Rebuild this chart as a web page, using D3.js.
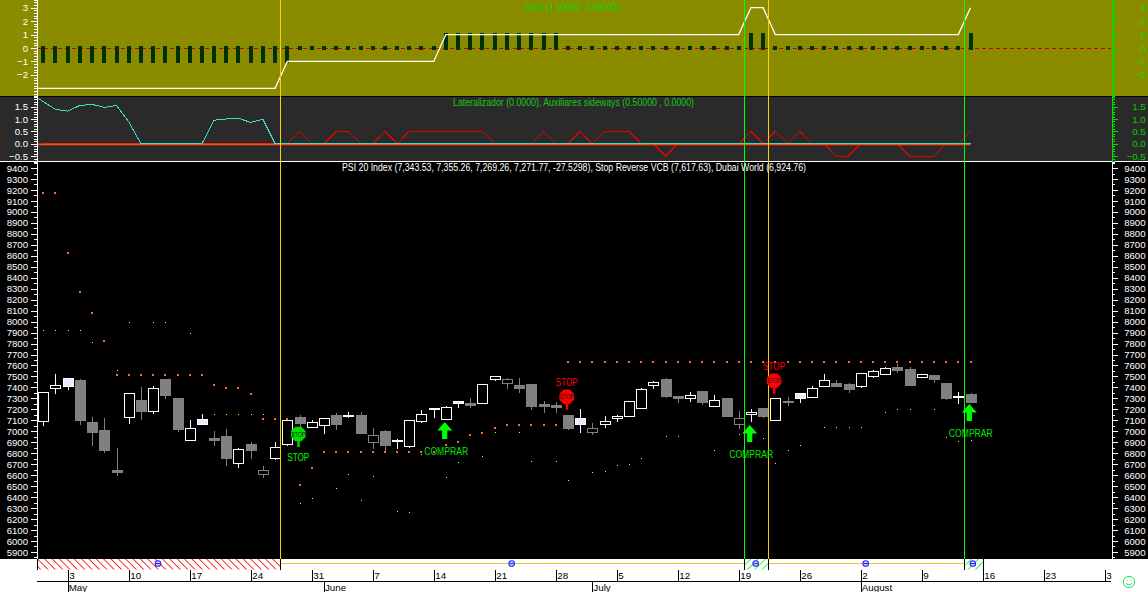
<!DOCTYPE html>
<html><head><meta charset="utf-8">
<script src="https://cdn.jsdelivr.net/npm/d3@7/dist/d3.min.js"></script>
<style>
html,body{margin:0;padding:0;background:#fff;overflow:hidden}
svg{display:block}
text{font-family:"Liberation Sans",Arial,sans-serif}
</style></head><body>
<svg id="c" width="1148" height="592"></svg>
<script>
const opens=[7094,7389,7486,7468,7085,7012,6647,7130,7285,7185,
7477,7304,6921,7112,6939,6957,6711,6884,6611,6757,
6884,7130,7039,7057,7149,7139,7149,6902,7003,6912,
6866,7094,7206,7112,7276,7258,7258,7477,7440,7422,
7431,7249,7240,7149,7121,6994,7069,7121,7139,7212,
7422,7477,7322,7303,7367,7230,7303,7066,7158,7212,
7103,7276,7349,7312,7413,7440,7431,7413,7504,7522,
7586,7568,7498,7513,7440,7312,7343.53];
const closes=[7355,7419,7413,7103,6994,6829,6632,7349,7185,7395,
7331,7021,7027,7067,6921,6757,6839,6829,6644,6854,
7103,7076,7085,7121,7067,7146,6984,6966,6875,6921,
7103,7158,7212,7221,7258,7240,7431,7504,7477,7395,
7231,7231,7221,7030,7067,7030,7094,7139,7276,7385,
7449,7322,7303,7331,7267,7285,7139,7121,7176,7139,
7303,7267,7303,7395,7467,7413,7385,7531,7550,7577,
7559,7422,7522,7477,7303,7322,7271.77];
const highs=[7367,7531,7486,7486,7139,7130,6857,7349,7413,7422,
7477,7313,7112,7158,7012,7030,6857,6912,6693,6912,
7103,7158,7112,7130,7176,7185,7185,7039,7021,6939,
7103,7203,7212,7240,7276,7313,7431,7513,7495,7495,
7431,7285,7276,7158,7212,7085,7148,7158,7276,7404,
7468,7495,7331,7367,7376,7340,7312,7194,7212,7212,
7303,7322,7349,7422,7531,7477,7449,7531,7568,7595,
7622,7595,7522,7522,7440,7367,7355.26];
const lows=[7057,7349,7386,7067,6875,6811,6602,7076,7112,7167,
7304,7003,6921,7067,6875,6693,6674,6757,6583,6747,
6875,7048,7039,6984,7021,7130,6984,6848,6829,6848,
6857,7085,7130,7112,7221,7221,7258,7468,7395,7358,
7203,7176,7176,7021,6994,6975,7039,7094,7139,7212,
7395,7313,7267,7276,7249,7230,7139,7030,7094,7130,
7103,7240,7267,7312,7413,7413,7358,7404,7495,7522,
7540,7422,7495,7449,7294,7258,7269.26];
// g = falling close (grey), w = rising close (white)
const candleTones=["w","w","w","g","g","g","g","w","g","w",
"g","g","w","w","g","g","w","g","g","w",
"w","g","w","w","g","w","g","g","g","w",
"w","w","w","w","w","g","w","w","g","g",
"g","g","g","g","w","g","w","w","w","w",
"w","g","g","w","g","w","g","g","w","g",
"w","g","w","w","w","g","g","w","w","w",
"g","g","w","g","g","w","g"];
const stopReverse=[9175,9175,8625,8270,8078,7823,7513,7513,7513,7513,
7513,7513,7513,7513,7422,7395,7395,7340,7112,7112,
7112,6511,6665,6811,6811,6811,6811,6811,6811,6811,
6811,6811,6811,6875,6902,6966,6985,7030,7057,7057,
7057,7057,7057,7632,7632,7632,7632,7632,7632,7632,
7632,7632,7632,7632,7632,7632,7632,7632,7632,7632,
7632,7632,7632,7632,7632,7632,7632,7632,7632,7632,
7632,7632,7632,7632,7632,7632,7632];
const dubaiWorld=[7921,7921,7921,7921,7811,null,7559,7994,null,7994,
7994,null,7893,7155,7155,7155,7155,7155,7155,null,
null,6344,6389,null,6480,6608,6371,6590,null,6271,
6262,6790,null,6581,6717,null,6772,6991,null,6991,
6727,null,6727,6553,null,6626,6635,6690,6699,6754,
null,6954,6954,null,null,6827,null,6973,null,6936,
6708,6827,6872,null,7036,7036,7036,7036,null,7173,
7200,7200,null,7200,6945,6909,6925];
const bobiBars=[-1,-1,-1,-1,-1,-1,-1,-1,-1,-1,
-1,-1,-1,-1,-1,-1,-1,-1,-1,-1,
-1,0,0,0,0,0,0,0,0,0,
0,0,0,1,1,1,1,1,1,1,
1,1,1,0,0,0,0,0,0,0,
0,0,0,0,0,0,0,0,1,1,
0,0,0,0,0,0,0,0,0,0,
0,0,0,0,0,0,1];
// starts one bar before the first candle, the line enters from behind the axis
const bobiLine=[-3,-3,-3,-3,-3,-3,-3,-3,-3,-3,
-3,-3,-3,-3,-3,-3,-3,-3,-3,-3,
-3,-1,-1,-1,-1,-1,-1,-1,-1,-1,
-1,-1,-1,-1,1,1,1,1,1,1,
1,1,1,1,1,1,1,1,1,1,
1,1,1,1,1,1,1,1,1,3,
3,1,1,1,1,1,1,1,1,1,
1,1,1,1,1,1,1,3];
const lateralLine=[2.03,1.70,1.39,1.32,1.55,1.59,1.47,1.55,0.89,0,
0,0,0,0,0,0.95,1.0,1.03,0.86,0.99,
0,0,0,0,0,0,0,0,0,0,
0,0,0,0,0,0,0,0,0,0,
0,0,0,0,0,0,0,0,0,0,
0,0,0,0,0,0,0,0,0,0,
0,0,0,0,0,0,0,0,0,0,
0,0,0,0,0,0,0,0];
const sidewaysLine=[0,0,0,0,0,0,0,0,0,0,
0,0,0,0,0,0,0,0,0,0,
0,0.5,0,0,0.5,0.5,0,0,0.5,0,
0.5,0.5,0.5,0.5,0.5,0.5,0.5,0,0,0,
0,0.5,0,0,0.5,0,0.5,0.5,0.5,0,
0,-0.5,0,0,0,0,0,0,0.5,0,
0.5,0,0.5,0,0,-0.5,-0.5,0,0,0,
0,-0.5,-0.5,-0.5,0,0,0.5];
const weekTicks=[2,7,12,17,22,27,32,37,42,47,52,57,62,67,72,77,82,87];
const weekLabels=["3","10","17","24","31","7","14","21","28","5","12","19","26","2","9","16","23","3"];
const monthTicks=[2,23,45,67];
const monthLabels=["May","June","July","August"];
const orangeMarks=[19.43,59.43];
const greenMarks=[57.47,75.5];
const stripBands=[[-0.52,19.43,"red"],[19.43,57.47,"line"],[57.47,59.43,"green"],[59.43,75.5,"line"],[75.5,77,"green"]];
const stopSigns=[[21,6975,"#00e000","#00ff00",1],[43,7315,"#ff0000","#ff0000",-1],[60,7461,"#ff0000","#ff0000",-1]];
const buySigns=[[33,7085],[58,7057],[76,7249]];
const titleMain="PSI 20 Index (7,343.53, 7,355.26, 7,269.26, 7,271.77, -27.5298), Stop Reverse VCB (7,617.63), Dubai World (6,924.76)";
const titleBobi="Bobi (1.00000, 3.00000)";
const titleLat="Lateralizador (0.0000), Auxiliares sideways (0.50000 , 0.0000)";

const svg=d3.select("#c");
const x=d3.scaleLinear().domain([0,76]).range([43.3,970.5]);
const yTop=d3.scaleLinear().domain([-3.57,3.57]).range([96,0]);
const yMid=d3.scaleLinear().domain([-0.7,1.89]).range([161,97]);
const yMain=d3.scaleLinear().domain([5836,9455]).range([559,162]);
const px=v=>Math.round(v)+0.5;

const defs=svg.append("defs");
defs.append("clipPath").attr("id","plot").append("rect").attr("x",37).attr("y",0).attr("width",1074).attr("height",559);
[["red","#ff0000",-45],["green","#00ff00",45]].forEach(([n,c,a])=>{
  const p=defs.append("pattern").attr("id","hatch-"+n).attr("patternUnits","userSpaceOnUse")
    .attr("width",5.2).attr("height",5.2).attr("patternTransform",`rotate(${a})`);
  p.append("line").attr("x1",0).attr("x2",0).attr("y1",0).attr("y2",5.2).attr("stroke",c).attr("stroke-width",1.6);
});

// panels
svg.append("rect").attr("width",1148).attr("height",96).attr("fill","#8b8b00");
svg.append("rect").attr("y",96).attr("width",1148).attr("height",1).attr("fill","#000");
svg.append("rect").attr("y",97).attr("width",1148).attr("height",64).attr("fill","#2a2a2a");
svg.append("rect").attr("y",161).attr("width",1148).attr("height",1).attr("fill","#fff");
svg.append("rect").attr("y",162).attr("width",1148).attr("height",397).attr("fill","#000");

const plot=svg.append("g").attr("clip-path","url(#plot)");

// top panel
plot.append("line").attr("x1",37).attr("x2",1111).attr("y1",px(yTop(0))).attr("y2",px(yTop(0)))
  .attr("stroke","#c80000").attr("stroke-dasharray","4 3").attr("shape-rendering","crispEdges");
plot.append("g").attr("shape-rendering","crispEdges").selectAll("rect").data(bobiBars).join("rect")
  .attr("x",(d,i)=>Math.round(x(i))-2).attr("width",4)
  .attr("y",d=>Math.round(yTop(Math.max(d,0)))-2)
  .attr("height",d=>Math.round(Math.abs(yTop(d)-yTop(0)))+4)
  .attr("fill","#002f08");
const lineTop=d3.line().x((d,i)=>x(i-1)).y(d=>yTop(d));
plot.append("path").attr("d",lineTop(bobiLine)).attr("fill","none").attr("stroke","#fff").attr("stroke-width",1.3);

// middle panel
const lineMidL=d3.line().x((d,i)=>x(i-1)).y(d=>yMid(d));
const lineMid=d3.line().x((d,i)=>x(i)).y(d=>yMid(d));
plot.append("path").attr("d",lineMid(sidewaysLine)).attr("fill","none").attr("stroke","#e60000").attr("stroke-width",1).attr("shape-rendering","crispEdges");
plot.append("line").attr("x1",37).attr("x2",x(76)).attr("y1",yMid(0)+0.7).attr("y2",yMid(0)+0.7).attr("stroke","#ff4a14").attr("stroke-width",1.6);
plot.append("path").attr("d",lineMidL(lateralLine)).attr("fill","none").attr("stroke","#3fdcc8").attr("stroke-width",1).attr("shape-rendering","crispEdges");

// candles
const main=plot.append("g").attr("shape-rendering","crispEdges");
const bars=main.selectAll("g").data(opens.map((o,i)=>i)).join("g");
const tone=i=>candleTones[i]==="w"?"#fff":"#808080";
bars.append("line").attr("x1",i=>px(x(i))).attr("x2",i=>px(x(i))).attr("y1",i=>px(yMain(highs[i]))).attr("y2",i=>px(yMain(lows[i]))).attr("stroke",tone);
bars.append("rect").attr("x",i=>Math.round(x(i))-4.5).attr("width",10)
  .attr("y",i=>px(yMain(Math.max(opens[i],closes[i]))))
  .attr("height",i=>Math.round(Math.abs(yMain(opens[i])-yMain(closes[i]))))
  .attr("fill",i=>closes[i]<opens[i]?(candleTones[i]==="w"?"#e9e9ff":"#808080"):"#000")
  .attr("stroke",tone);

// indicator dots
plot.append("g").attr("shape-rendering","crispEdges").selectAll("rect").data(stopReverse).join("rect")
  .attr("x",(d,i)=>Math.round(x(i))-1).attr("y",d=>Math.round(yMain(d))-1).attr("width",2).attr("height",2).attr("fill","#ff6a28");
plot.append("g").attr("shape-rendering","crispEdges").selectAll("rect").data(dubaiWorld.map((v,i)=>[i,v]).filter(d=>d[1]!==null)).join("rect")
  .attr("x",d=>Math.round(x(d[0]))).attr("y",d=>Math.round(yMain(d[1]))).attr("width",1).attr("height",1).attr("fill","#ffff00");

// vertical markers
const marks=svg.append("g").attr("shape-rendering","crispEdges");
marks.selectAll(".o").data(orangeMarks).join("line").attr("class","o").attr("x1",d=>px(x(d))).attr("x2",d=>px(x(d))).attr("y1",0).attr("y2",559).attr("stroke","#ffcc00");
marks.selectAll(".g").data(greenMarks).join("line").attr("class","g").attr("x1",d=>px(x(d))).attr("x2",d=>px(x(d))).attr("y1",0).attr("y2",559).attr("stroke","#00ff00");

// signals
const sig=svg.append("g");
stopSigns.forEach(([i,v,fill,textCol,dir])=>{
  const cx=x(i)-1.2, cy=yMain(v);
  const g=sig.append("g").attr("transform",`translate(${cx},${cy})`);
  g.append("rect").attr("x",-1).attr("y",5).attr("width",2.4).attr("height",8).attr("fill",fill);
  g.append("path").attr("d",d3.line()(d3.range(8).map(k=>{const a=Math.PI/8+k*Math.PI/4;return [7.9*Math.cos(a),7.9*Math.sin(a)];}))+"Z").attr("fill",fill);
  g.append("text").attr("text-anchor","middle").attr("y",2.7).attr("font-size",8).attr("fill","#111")
    .attr("textLength",14).attr("lengthAdjust","spacingAndGlyphs").text("STOP");
  g.append("text").attr("text-anchor","middle").attr("y",dir>0?27.3:-10.8).attr("font-size",10).attr("fill",textCol)
    .attr("textLength",22).attr("lengthAdjust","spacingAndGlyphs").text("STOP");
});
buySigns.forEach(([i,v])=>{
  const g=sig.append("g").attr("transform",`translate(${x(i)-1.2},${yMain(v)})`);
  g.append("path").attr("d","M0,0L7.5,8.5L2.6,8.5L2.6,17L-2.6,17L-2.6,8.5L-7.5,8.5Z").attr("fill","#00ff00");
  g.append("text").attr("text-anchor","middle").attr("x",1.5).attr("y",32.6).attr("font-size",10).attr("fill","#00e800")
    .attr("textLength",44).attr("lengthAdjust","spacingAndGlyphs").text("COMPRAR");
});

// titles
function title(t,xc,yc,col,len){
  svg.append("text").attr("x",xc).attr("y",yc).attr("text-anchor","middle").attr("font-size",10)
    .attr("fill",col).attr("textLength",len).attr("lengthAdjust","spacingAndGlyphs").text(t);
}
title(titleBobi,573,10.6,"#00d800",94);
title(titleLat,573.5,106,"#18c818",241);
title(titleMain,574,171,"#fff",464);

// value axes
function yAxis(scale,majors,minors,fmt,leftCol,rightCol,rightText){
  const left=svg.append("g").attr("transform","translate(36.5,0)");
  const right=svg.append("g").attr("transform","translate(1111.5,0)");
  left.call(d3.axisLeft(scale).tickValues(minors).tickSize(3).tickFormat(""));
  left.call(g=>g.selectAll("*").attr("stroke",leftCol));
  const lm=left.append("g").call(d3.axisLeft(scale).tickValues(majors).tickSize(6).tickPadding(2.5).tickFormat(fmt));
  lm.select(".domain").remove();
  lm.selectAll("line").attr("stroke",leftCol);
  lm.selectAll("text").attr("fill",leftCol).attr("font-size",9.6).attr("font-family","Liberation Sans");
  right.call(d3.axisRight(scale).tickValues(minors).tickSize(3).tickFormat(""));
  right.call(g=>g.selectAll("*").attr("stroke",rightCol));
  const rm=right.append("g").call(d3.axisRight(scale).tickValues(majors).tickSize(6).tickFormat(fmt));
  rm.select(".domain").remove();
  rm.selectAll("line").attr("stroke",rightCol);
  rm.selectAll("text").attr("x",34).attr("text-anchor","end").attr("fill",rightText).attr("font-size",9.6).attr("font-family","Liberation Sans");
  svg.selectAll(".domain").attr("shape-rendering","crispEdges");
  svg.selectAll(".tick line").attr("shape-rendering","crispEdges");
}
const mainMajors=d3.range(5900,9401,100), mainMinors=d3.range(5850,9451,50);
yAxis(yMain,mainMajors,mainMinors,d3.format("d"),"#fff","#fff","#fff");
yAxis(yMid,[-0.5,0,0.5,1,1.5],d3.range(-0.6,1.85,0.1).map(v=>+v.toFixed(1)),d3.format(".1f"),"#fff","#00e000","#00d000");
yAxis(yTop,[-2,-1,0,1,2,3],d3.range(-3.4,3.5,0.2).map(v=>+v.toFixed(1)),d3.format("d"),"#fff","#00e000","#00e000");

// signal strip
const strip=svg.append("g");
stripBands.forEach(([a,b,k])=>{
  if(k==="line"){
    strip.append("line").attr("x1",x(a)).attr("x2",x(b)).attr("y1",563.5).attr("y2",563.5).attr("stroke","#f0c428").attr("stroke-width",1);
  }else{
    strip.append("rect").attr("x",x(a)).attr("width",x(b)-x(a)).attr("y",559).attr("height",10.5).attr("fill",`url(#hatch-${k})`);
  }
  const mid=(x(a)+x(b))/2-0.7;
  strip.append("circle").attr("cx",mid).attr("cy",563.5).attr("r",2.8).attr("fill","#d0d0ff").attr("stroke","#2020ff").attr("stroke-width",1.1);
  strip.append("line").attr("x1",mid-2).attr("x2",mid+2).attr("y1",563.5).attr("y2",563.5).attr("stroke","#2020ff");
  [a,b].forEach(v=>strip.append("line").attr("x1",px(x(v))).attr("x2",px(x(v))).attr("y1",559).attr("y2",570).attr("stroke","#000").attr("shape-rendering","crispEdges"));
});

// date axes
const weekAxis=svg.append("g").attr("transform","translate(0,570)")
  .call(d3.axisBottom(x).tickValues(weekTicks).tickSize(11).tickFormat((d,i)=>weekLabels[i]));
weekAxis.select(".domain").remove();
weekAxis.selectAll("line").attr("stroke","#000").attr("shape-rendering","crispEdges");
weekAxis.selectAll("text").attr("text-anchor","start").attr("x",1).attr("y",2).attr("dy","0.71em")
  .attr("fill","#000").attr("font-size",9.8).attr("font-family","Liberation Sans");
svg.append("line").attr("x1",37).attr("x2",1111).attr("y1",581.5).attr("y2",581.5).attr("stroke","#000").attr("shape-rendering","crispEdges");
const monthAxis=svg.append("g").attr("transform","translate(0,582)")
  .call(d3.axisBottom(x).tickValues(monthTicks).tickSize(10).tickFormat((d,i)=>monthLabels[i]));
monthAxis.select(".domain").remove();
monthAxis.selectAll("line").attr("stroke","#000").attr("shape-rendering","crispEdges");
monthAxis.selectAll("text").attr("text-anchor","start").attr("x",0.5).attr("y",2).attr("dy","0.71em")
  .attr("fill","#000").attr("font-size",9.8).attr("font-family","Liberation Sans");

// smiley
const sm=svg.append("g").attr("transform","translate(1129,582)").attr("fill","none").attr("stroke","#20e060");
sm.append("circle").attr("r",5.6);
sm.append("path").attr("d","M-3,1.5Q0,4.5 3,1.5");
sm.append("path").attr("d","M-2,-2V-1M2,-2V-1");
</script>
</body></html>
